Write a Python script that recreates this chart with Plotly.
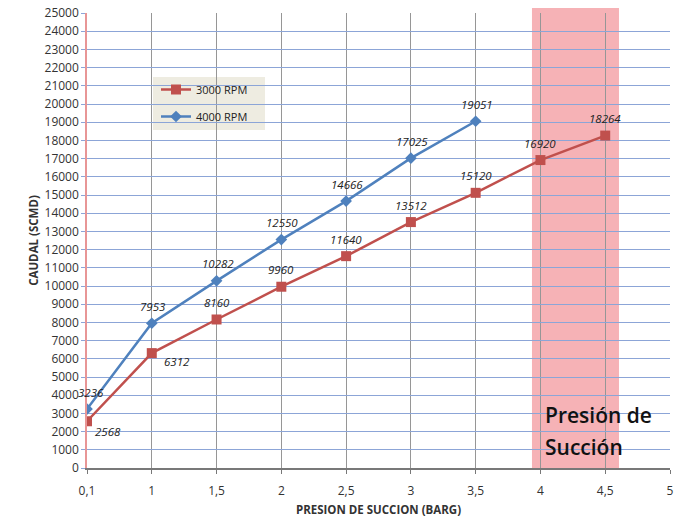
import plotly.graph_objects as go

x_labels = ["0,1", "1", "1,5", "2", "2,5", "3", "3,5", "4", "4,5", "5"]
rpm3000 = [2568, 6312, 8160, 9960, 11640, 13512, 15120, 16920, 18264]
rpm4000 = [3236, 7953, 10282, 12550, 14666, 17025, 19051]
y_ticks = list(range(0, 25001, 1000))

RED = "#C0504D"
BLUE = "#4F81BD"

x_idx = list(range(len(x_labels)))

fig = go.Figure()
fig.add_trace(go.Scatter(
    x=x_idx[:len(rpm3000)], y=rpm3000, mode="lines+markers", name="3000 RPM",
    line=dict(color=RED, width=2.5), marker=dict(symbol="square", size=10, color=RED),
    legendgroup="a"))
fig.add_trace(go.Scatter(
    x=x_idx[:len(rpm4000)], y=rpm4000, mode="lines+markers", name="4000 RPM",
    line=dict(color=BLUE, width=2.5), marker=dict(symbol="diamond", size=9, color=BLUE),
    legendgroup="b"))

lab_font = dict(family="Open Sans", size=11.5, color="#222222", style="italic")
ann = []
for i, v in enumerate(rpm3000):
    if i == 0:
        xs, ys = 21, -10
    elif i == 1:
        xs, ys = 25, -8
    else:
        xs, ys = 0, 17
    ann.append(dict(x=i, y=v, xref="x", yref="y", text=str(v), showarrow=False,
                    xshift=xs, yshift=ys, font=lab_font))
for i, v in enumerate(rpm4000):
    xs = 4 if i == 0 else 1
    ann.append(dict(x=i, y=v, xref="x", yref="y", text=str(v), showarrow=False,
                    xshift=xs, yshift=17, font=lab_font))

big = dict(family="Open Sans", size=21, color="#111111", weight=600)
ann.append(dict(x=(543 - 87) / 64.78, y=(468 - 415) / 455, xref="x", yref="paper", text="Presión de",
                showarrow=False, xanchor="left", yanchor="middle", font=big))
ann.append(dict(x=(543 - 87) / 64.78, y=(468 - 447) / 455, xref="x", yref="paper", text="Succión",
                showarrow=False, xanchor="left", yanchor="middle", font=big))

shapes = [
    dict(type="rect", xref="x", yref="paper", x0=(532 - 87) / 64.78, x1=(619 - 87) / 64.78,
         y0=0, y1=(468 - 8) / 455,
         fillcolor="rgb(246,178,182)", line=dict(width=0), layer="below"),
    dict(type="rect", xref="paper", yref="paper",
         x0=(153 - 87) / 583, x1=(265 - 87) / 583,
         y0=(468 - 130) / 455, y1=(468 - 77) / 455,
         fillcolor="#EEECE1", line=dict(width=0), layer="between"),
]

fig.update_layout(
    width=680, height=518,
    margin=dict(l=87, r=10, t=13, b=50),
    paper_bgcolor="white", plot_bgcolor="rgba(0,0,0,0)",
    showlegend=True,
    legend=dict(x=(156 - 87) / 583, y=(468 - 75) / 455, xanchor="left", yanchor="top",
                bgcolor="rgba(0,0,0,0)", font=dict(family="Open Sans", size=11, color="#222"),
                tracegroupgap=8, itemwidth=30),
    annotations=ann, shapes=shapes,
    font=dict(family="Open Sans", color="#333333"),
)
fig.update_xaxes(
    range=[0, 9], tickmode="array", tickvals=x_idx, ticktext=x_labels,
    showgrid=True, gridcolor="rgb(150,150,150)", gridwidth=1,
    showline=True, linecolor="rgb(120,120,120)", linewidth=2,
    ticks="outside", ticklen=4, tickcolor="rgb(120,120,120)", ticklabelstandoff=7,
    tickfont=dict(family="Open Sans", size=12, color="#333333"),
    zeroline=False, automargin=False,
    title=dict(text="<b>PRESION DE SUCCION (BARG)</b>", font=dict(family="Open Sans", size=11.5, color="#333333"),
               standoff=8),
)
fig.update_yaxes(
    range=[0, 25000], tickmode="array", tickvals=y_ticks, ticktext=[str(t) for t in y_ticks],
    showgrid=True, gridcolor="rgb(140,165,215)", gridwidth=1,
    showline=True, linecolor="rgb(232,150,150)", linewidth=1.5,
    ticks="outside", ticklen=4, tickcolor="rgb(140,165,215)",
    tickfont=dict(family="Open Sans", size=12, color="#333333"),
    zeroline=False, automargin=False,
    title=dict(text="<b>CAUDAL (SCMD)</b>", font=dict(family="Open Sans", size=11.5, color="#333333"),
               standoff=4),
)
fig.write_html("out.html")
